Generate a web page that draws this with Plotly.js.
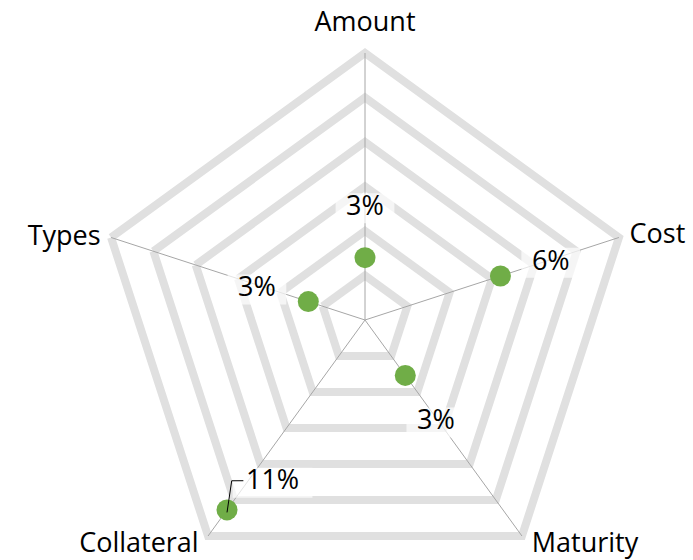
<!DOCTYPE html>
<html>
<head>
<meta charset="utf-8">
<script src="https://cdn.plot.ly/plotly-3.0.1.min.js"></script>
<style>
html, body { margin: 0; padding: 0; overflow: hidden; background: #ffffff; width: 693px; height: 560px; position: relative; }
#chart { position: absolute; left: 0; top: -40px; width: 740px; height: 700px; }
</style>
</head>
<body>
<div id="chart"></div>
<script>
// ---- data ----
const categories = ['Amount', 'Cost', 'Maturity', 'Collateral', 'Types'];
const values = [0.028, 0.064, 0.0308, 0.1055, 0.0268];
const radialMax = 0.12;
const radialStep = 0.02;

// ---- label placement (style) ----
const labelDr = [0.0234, 0.0237, 0.0243, -0.0224, 0.0240];
const labelDtheta = [0, 0.2, 0.7, -6.0, -1.0];
const catLabelR = [0.1339, 0.1370, 0.1408, 0.1427, 0.1404];
const catLabelDtheta = [0, 1.6, -8.6, 9.4, -2.4];
const outerMax = 0.15;   // range of the overlay that carries the texts
const textDrop = 2.5;    // px: vertical nudge of the text overlay

const FONT = 'Open Sans, Noto Sans, sans-serif';
const step = 360 / categories.length;
const labelText = values.map(v => Math.round(v * 100) + '%');
const labelR = values.map((v, i) => v + labelDr[i]);
const labelTheta = values.map((v, i) => i * step + labelDtheta[i]);
const boxW = labelText.map(t => t.length * 15 + 12);
const catTheta = categories.map((c, i) => i * step + catLabelDtheta[i]);

// leader line for the Collateral label (elbow), relative to the value point
const li = 3;
const leaderR = [values[li], values[li] - 0.0125, values[li] - 0.0158];
const leaderTheta = [li * step, li * step + 4.1, li * step + 1.55];

// geometry of the (oversized) paper
const W = 740, H = 700, CX = 365, CY = 360, R = 267;
const R3 = R * outerMax / radialMax;
const domain = (rad, cy) => ({ x: [(CX - rad) / W, (CX + rad) / W], y: [1 - (cy + rad) / H, 1 - (cy - rad) / H] });
const dom = domain(R, CY);
const dom3 = domain(R3, CY + textDrop);

const traces = [
  { // base grid carrier
    type: 'scatterpolar', subplot: 'polar', r: values, theta: categories,
    mode: 'markers', marker: { opacity: 0 }, hoverinfo: 'skip', showlegend: false
  },
  { // data points
    type: 'scatterpolar', subplot: 'polar2', r: values, theta: categories,
    mode: 'markers', marker: { color: '#70ad47', size: 21 },
    hoverinfo: 'skip', showlegend: false
  },
  { // label backgrounds
    type: 'scatterpolar', subplot: 'polar3', r: labelR, theta: labelTheta,
    mode: 'markers', marker: { symbol: 'line-ew', size: boxW, color: '#ffffff',
      line: { color: '#ffffff', width: 30 } },
    hoverinfo: 'skip', showlegend: false
  },
  { // leader line
    type: 'scatterpolar', subplot: 'polar3', r: leaderR, theta: leaderTheta,
    mode: 'lines', line: { color: '#000000', width: 1 },
    hoverinfo: 'skip', showlegend: false
  },
  { // value labels
    type: 'scatterpolar', subplot: 'polar3', r: labelR, theta: labelTheta,
    mode: 'text', text: labelText, textposition: 'middle center',
    textfont: { family: FONT, size: 27, color: '#000000' },
    hoverinfo: 'skip', showlegend: false
  },
  { // category labels
    type: 'scatterpolar', subplot: 'polar3', r: catLabelR, theta: catTheta,
    mode: 'text', text: categories, textposition: 'middle center', cliponaxis: false,
    textfont: { family: FONT, size: 27, color: '#000000' },
    hoverinfo: 'skip', showlegend: false
  }
];

const layout = {
  width: W, height: H,
  margin: { l: 0, r: 0, t: 0, b: 0 },
  paper_bgcolor: '#ffffff',
  showlegend: false,
  font: { family: FONT, color: '#000000' },
  polar: {
    domain: dom, bgcolor: 'rgba(0,0,0,0)', gridshape: 'linear',
    radialaxis: {
      range: [0, radialMax], tick0: 0, dtick: radialStep, angle: 90,
      showgrid: true, gridcolor: '#e0e0e0', gridwidth: 8,
      showline: false, showticklabels: false, ticks: ''
    },
    angularaxis: {
      type: 'category', categoryarray: categories,
      rotation: 90, direction: 'clockwise',
      showgrid: false, showline: true, linecolor: '#e0e0e0', linewidth: 8,
      showticklabels: false, ticks: ''
    }
  },
  polar2: {
    domain: dom, bgcolor: 'rgba(0,0,0,0)',
    radialaxis: { range: [0, radialMax], visible: false },
    angularaxis: {
      type: 'category', categoryarray: categories,
      rotation: 90, direction: 'clockwise',
      showgrid: true, gridcolor: '#a6a6a6', gridwidth: 1,
      showline: false, showticklabels: false, ticks: ''
    }
  },
  polar3: {
    domain: dom3, bgcolor: 'rgba(0,0,0,0)',
    radialaxis: { range: [0, outerMax], visible: false },
    angularaxis: { type: 'linear', rotation: 90, direction: 'clockwise', visible: false }
  }
};

Plotly.newPlot('chart', traces, layout, { displayModeBar: false, staticPlot: true });
</script>
</body>
</html>
